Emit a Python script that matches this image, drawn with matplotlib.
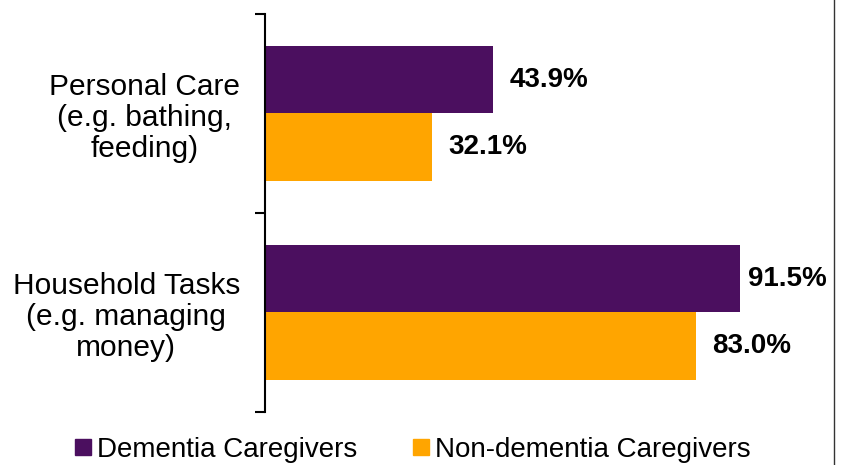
import numpy as np
from matplotlib import pyplot as plt
from matplotlib.lines import Line2D

plt.rcParams['font.family'] = ['Liberation Sans', 'DejaVu Sans']

categories = ['Personal Care\n(e.g. bathing,\nfeeding)', 'Household Tasks\n(e.g. managing\nmoney)']
dementia = [43.9, 91.5]
non_dementia = [32.1, 83.0]
series_names = ['Dementia Caregivers', 'Non-dementia Caregivers']
colors = ['#4B0F5F', '#FFA500']

W, H = 843, 465
fig = plt.figure(figsize=(W / 100, H / 100), dpi=100)
# axes box in pixels: left 265, right 784 (0..100%), top 14, bottom 412
ax = fig.add_axes([265 / W, 1 - 412 / H, (784 - 265) / W, (412 - 14) / H])

y = np.arange(len(categories))
bh = 0.337
b1 = ax.barh(y - bh / 2, dementia, height=bh, color=colors[0])
b2 = ax.barh(y + bh / 2, non_dementia, height=bh, color=colors[1])

ax.set_xlim(0, 100)
ax.set_ylim(1.5, -0.5)
ax.set_yticks([-0.5, 0.5, 1.5])
ax.set_yticks(y, minor=True)
ax.set_yticklabels(['', '', ''])
ax.set_yticklabels(categories, minor=True, fontsize=21.5, ha='right', multialignment='center',
                   linespacing=1.15)
ax.tick_params(axis='y', which='major', length=7, width=1.5, direction='out')
ax.tick_params(axis='y', which='minor', length=0, pad=18)
ax.set_xticks([])
for s in ['top', 'right', 'bottom']:
    ax.spines[s].set_visible(False)
ax.spines['left'].set_linewidth(1.5)

# value labels, pixel offsets from bar end
offs = [[12, 6], [12, 12]]
for j, bars in enumerate([b1, b2]):
    for i, b in enumerate(bars):
        v = b.get_width()
        ax.annotate('%.1f%%' % v, (v, b.get_y() + b.get_height() / 2),
                    xytext=(offs[j][i], 0), textcoords='offset points',
                    va='center', ha='left', fontsize=20, fontweight='bold')

# chart border on the right
fig.add_artist(Line2D([834 / W, 834 / W], [0, 1], color='#333333', lw=1))

handles = [Line2D([], [], marker='s', ls='', color=c, markersize=11.5) for c in colors]
fig.legend(handles, series_names, loc='center', bbox_to_anchor=(410 / W, 1 - 450 / H),
           ncol=2, frameon=False, fontsize=20, handletextpad=0.0, columnspacing=1.78,
           handlelength=1.0, borderaxespad=0)

plt.savefig('out.png', dpi=100)
